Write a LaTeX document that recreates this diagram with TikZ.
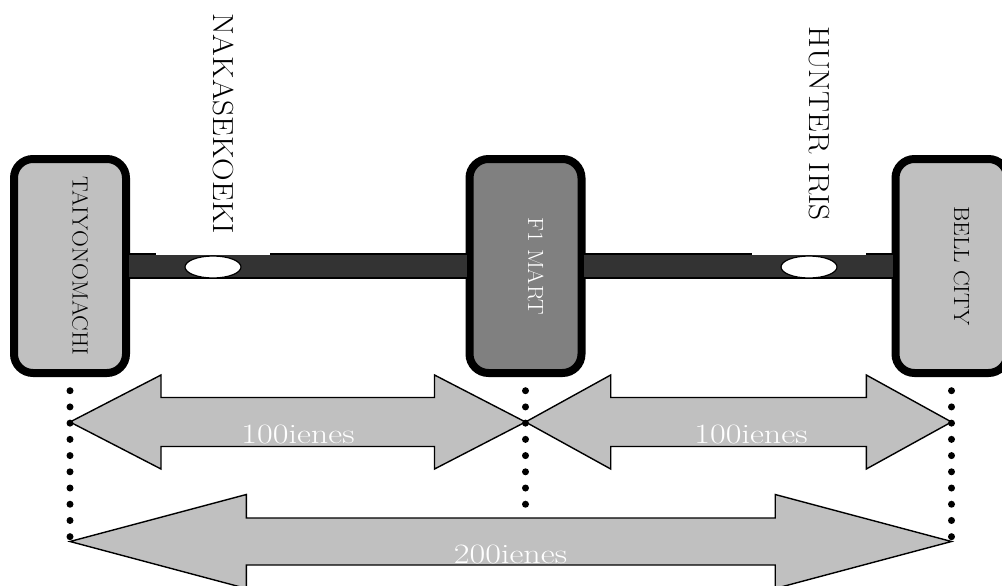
\documentclass[tikz,border=0pt]{standalone}
\usepackage{fontspec}
\usetikzlibrary{shapes.geometric,calc}
\newfontfamily\labfont[FakeStretch=1.08]{Latin Modern Roman}
\newfontfamily\boxfont[FakeStretch=1.06]{Latin Modern Roman}
\newfontfamily\dimfont[FakeStretch=1.22]{Latin Modern Roman}
\definecolor{lightg}{HTML}{C0C0C0}
\definecolor{midg}{HTML}{808080}
\definecolor{darkg}{HTML}{333333}
\newcommand\dimarrow[4]{%
  \draw[dimarr] (#1) -- ($(#1)+(#3,-47)$) -- ($(#1)+(#3,-#4)$) -- ($(#2)+(-#3,-#4)$)
   -- ($(#2)+(-#3,-47)$) -- (#2) -- ($(#2)+(-#3,47)$) -- ($(#2)+(-#3,#4)$)
   -- ($(#1)+(#3,#4)$) -- ($(#1)+(#3,47)$) -- cycle;}
\begin{document}
\begin{tikzpicture}[x=1pt,y=-1pt,
  stopbox/.style={draw=black, line width=8pt, rounded corners=19pt, rotate=-90,
    minimum width=214pt, minimum height=112pt, inner sep=0pt,
    font=\boxfont\fontsize{22}{26}\selectfont, text height=15pt, text depth=20pt},
  stlabel/.style={rotate=-90, fill=white, inner sep=0pt, minimum width=263pt,
    minimum height=114pt, font=\labfont\fontsize{29}{34}\selectfont, text height=20pt, text depth=20pt},
  railbar/.style={fill=darkg, draw=black, line width=1.2pt},
  hole/.style={ellipse, draw=black, fill=white, line width=1.2pt,
    minimum width=56pt, minimum height=22pt, inner sep=0pt},
  dimarr/.style={fill=lightg, draw=black, line width=1.4pt, line join=miter},
  dimtext/.style={text=white, font=\dimfont\fontsize{28}{32}\selectfont, anchor=base, inner sep=0pt},
  dotline/.style={line width=7pt, line cap=round, dash pattern=on 0pt off 16.22pt}
]
\clip (0,0) rectangle (1002,586);
% stations
\node[stopbox, fill=lightg] (tay) at (70,266) {TAIYONOMACHI};
\node[stopbox, fill=midg, text=white] (f1) at (525.5,266) {F1 MART};
\node[stopbox, fill=lightg] (bell) at (951.5,266) {BELL CITY};
% rail
\draw[railbar] ($(tay.north)+(-2,-12)$) rectangle ($(f1.south)+(2,12)$);
\draw[railbar] ($(f1.north)+(-2,-12)$) rectangle ($(bell.south)+(2,12)$);
% stop labels
\node[stlabel] (naka) at (213,123.5) {NAKASEKOEKI};
\node[stlabel] (hunter) at (809,123.5) {HUNTER IRIS};
\node[hole] (h1) at (213,267) {};
\node[hole] (h2) at (809,267) {};
% arrow end points
\coordinate (a1) at ($(tay.center)+(0,156)$);
\coordinate (a2) at ($(f1.center)+(0,156)$);
\coordinate (a3) at ($(bell.center)+(0,156)$);
\coordinate (b1) at ($(tay.center)+(0,275.5)$);
\coordinate (b3) at ($(bell.center)+(0,275.5)$);
\dimarrow{a1}{a2}{91}{24.5}
\dimarrow{a2}{a3}{85.2}{24.5}
\dimarrow{b1}{b3}{176.3}{23.5}
% dotted guides
\draw[dotline] ($(tay.east)+(0,13.7)$) -- ++(0,146.2);
\draw[dotline] ($(f1.east)+(0,13.7)$) -- ++(0,113.7);
\draw[dotline] ($(bell.east)+(0,13.7)$) -- ++(0,146.2);
% dimension texts
\node[dimtext] (l1) at (298,443) {100ienes};
\node[dimtext] (l2) at (751,443) {100ienes};
\node[dimtext] (l3) at (510.5,563) {200ienes};
\end{tikzpicture}
\end{document}
